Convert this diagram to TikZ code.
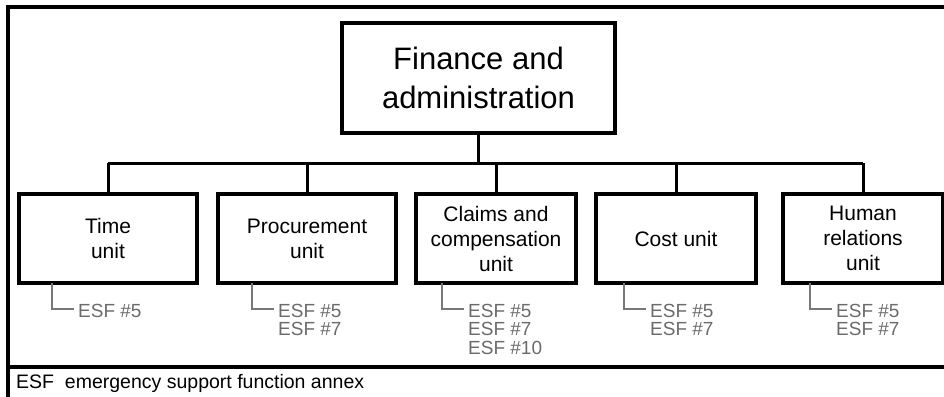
\documentclass[tikz,border=0pt]{standalone}
\usepackage{fontspec}
\setmainfont{Liberation Sans}
\usetikzlibrary{positioning}
\definecolor{EsfGray}{rgb}{0.42, 0.42, 0.42}
\definecolor{TickGray}{rgb}{0.47, 0.47, 0.47}

\begin{document}
\begin{tikzpicture}[
    x=1pt, y=-1pt,
    frame/.style={line width=3.4pt, line cap=rect},
    head/.style={draw, line width=3.4pt, outer sep=0pt, align=center,
        minimum width=273pt, minimum height=110pt,
        font=\fontsize{31}{39}\selectfont},
    unitbox/.style={draw, line width=3.4pt, outer sep=0pt, align=center,
        minimum width=160pt, minimum height=89pt, inner sep=0pt,
        font=\fontsize{21}{25}\selectfont},
    link/.style={line width=3pt},
    tick/.style={line width=2.8pt, TickGray},
    esf/.style={anchor=north west, align=left, inner sep=0pt, text=EsfGray,
        font=\fontsize{19}{18.5}\selectfont},
]
\useasboundingbox (0,0) rectangle (944,396);

% cadre et legende
\draw[frame] (944,7) -- (8,7) -- (8,396);
\draw[frame] (8,367) -- (944,367);
\node[anchor=west, inner sep=0pt, font=\fontsize{19.5}{22}\selectfont] (legend) at (16,383)
    {ESF~~emergency support function annex};

% boites
\node[head] (fin) at (478.5,78) {Finance and\\administration};
\node[unitbox, minimum width=178pt] (time) at (108,238.5) {Time\\unit};
\node[unitbox, minimum width=178pt, right=21pt of time] (proc) {Procurement\\unit};
\node[unitbox, right=20pt of proc] (claims) {Claims and\\compensation\\unit};
\node[unitbox, right=20pt of claims] (cost) {Cost unit};
\node[unitbox, right=27pt of cost] (human) {Human\\relations\\unit};

% liaisons
\coordinate (bus) at (0,163);
\draw[link] (fin.south) -- (fin.south |- bus);
\draw[link] (time.north |- bus) -- (human.north |- bus);
\foreach \n in {time, proc, claims, cost, human}
    \draw[link] (\n.north |- bus) -- (\n.north);

% annexes ESF
\node[esf] (esftime) at ([xshift=59pt, yshift=-21pt]time.south west) {ESF \#5};
\node[esf] (esfproc) at ([xshift=60pt, yshift=-21pt]proc.south west) {ESF \#5\\ESF \#7};
\node[esf] (esfclaims) at ([xshift=52pt, yshift=-21pt]claims.south west) {ESF \#5\\ESF \#7\\ESF \#10};
\node[esf] (esfcost) at ([xshift=54pt, yshift=-21pt]cost.south west) {ESF \#5\\ESF \#7};
\node[esf] (esfhuman) at ([xshift=53pt, yshift=-21pt]human.south west) {ESF \#5\\ESF \#7};

\foreach \n/\d in {time/33, proc/34, claims/26, cost/28, human/27}
    \draw[tick] ([xshift=\d pt]\n.south west) |- ([xshift=-4pt, yshift=-5pt]esf\n.north west);

\end{tikzpicture}
\end{document}
